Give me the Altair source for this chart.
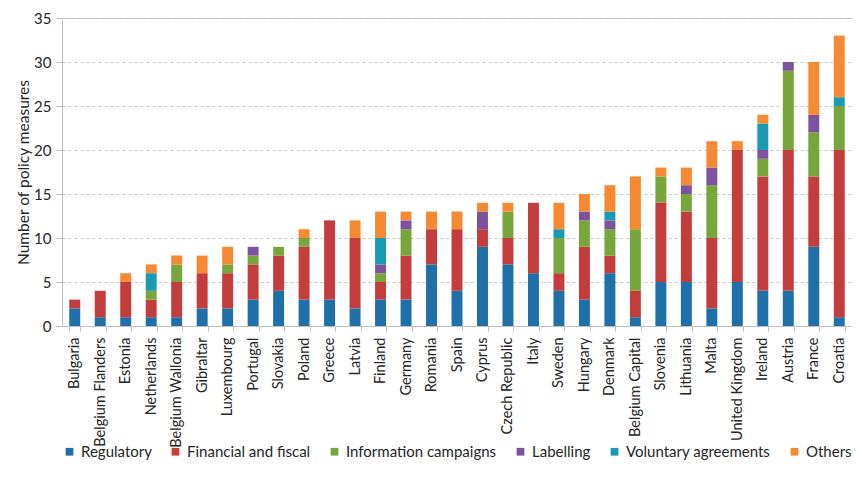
import altair as alt
import pandas as pd

countries = ["Bulgaria", "Belgium Flanders", "Estonia", "Netherlands", "Belgium Wallonia",
             "Gibraltar", "Luxembourg", "Portugal", "Slovakia", "Poland", "Greece", "Latvia",
             "Finland", "Germany", "Romania", "Spain", "Cyprus", "Czech Republic", "Italy",
             "Sweden", "Hungary", "Denmark", "Belgium Capital", "Slovenia", "Lithuania",
             "Malta", "United Kingdom", "Ireland", "Austria", "France", "Croatia"]

categories = ["Regulatory", "Financial and fiscal", "Information campaigns",
              "Labelling", "Voluntary agreements", "Others"]
colors = ["#1f6fa8", "#c43d3d", "#78a63c", "#7d539e", "#1a9ab5", "#f58a33"]

regulatory = [2, 1, 1, 1, 1, 2, 2, 3, 4, 3, 3, 2, 3, 3, 7, 4, 9, 7, 6, 4, 3, 6, 1, 5, 5, 2, 5, 4, 4, 9, 1]
financial = [1, 3, 4, 2, 4, 4, 4, 4, 4, 6, 9, 8, 2, 5, 4, 7, 2, 3, 8, 2, 6, 2, 3, 9, 8, 8, 15, 13, 16, 8, 19]
information = [0, 0, 0, 1, 2, 0, 1, 1, 1, 1, 0, 0, 1, 3, 0, 0, 0, 3, 0, 4, 3, 3, 7, 3, 2, 6, 0, 2, 9, 5, 5]
labelling = [0, 0, 0, 0, 0, 0, 0, 1, 0, 0, 0, 0, 1, 1, 0, 0, 2, 0, 0, 0, 1, 1, 0, 0, 1, 2, 0, 1, 1, 2, 0]
voluntary = [0, 0, 0, 2, 0, 0, 0, 0, 0, 0, 0, 0, 3, 0, 0, 0, 0, 0, 0, 1, 0, 1, 0, 0, 0, 0, 0, 3, 0, 0, 1]
others = [0, 0, 1, 1, 1, 2, 2, 0, 0, 1, 0, 2, 3, 1, 2, 2, 1, 1, 0, 3, 2, 3, 6, 1, 2, 3, 1, 1, 0, 6, 7]

series = [regulatory, financial, information, labelling, voluntary, others]
rows = []
for k, (cat, vals) in enumerate(zip(categories, series)):
    for c, v in zip(countries, vals):
        if v > 0:
            rows.append({"country": c, "type": cat, "order": k, "value": v})
df = pd.DataFrame(rows)

FONT = "Lato"
TXT = "#262626"

chart = alt.Chart(df).mark_bar().encode(
    x=alt.X("country:N", sort=countries, title=None,
            scale=alt.Scale(paddingInner=0.57, paddingOuter=0.285),
            axis=alt.Axis(labelAngle=-90, tickBand="extent", tickSize=5, labelPadding=6,
                          domainColor="#bfbfbf", tickColor="#bfbfbf",
                          labelFont=FONT, labelFontSize=14.5, labelColor=TXT)),
    y=alt.Y("value:Q", stack="zero", title="Number of policy measures",
            scale=alt.Scale(domain=[0, 35]),
            axis=alt.Axis(values=[0, 5, 10, 15, 20, 25, 30, 35], tickSize=6, labelPadding=5,
                          domainColor="#bfbfbf", tickColor="#bfbfbf",
                          gridColor="#c8c8c8", gridDash=[3, 3], gridWidth=1,
                          labelFont=FONT, labelFontSize=15, labelColor=TXT,
                          titleFont=FONT, titleFontSize=15.5, titleFontWeight="normal",
                          titleColor=TXT, titlePadding=2)),
    color=alt.Color("type:N", sort=categories,
                    scale=alt.Scale(domain=categories, range=colors),
                    legend=alt.Legend(title=None, orient="none", direction="horizontal",
                                      legendX=0, legendY=426,
                                      symbolType="square", symbolSize=60, symbolStrokeWidth=0,
                                      labelFont=FONT, labelFontSize=15, labelColor=TXT,
                                      columnPadding=16, labelOffset=4)),
    order=alt.Order("order:Q"),
).properties(
    width=790, height=308,
    autosize=alt.AutoSizeParams(type="none"),
    padding={"left": 54, "top": 10, "right": 0, "bottom": 154},
).configure_view(stroke="#bfbfbf", strokeWidth=1)

chart.save("out.html", embed_options={"renderer": "svg", "actions": False})
